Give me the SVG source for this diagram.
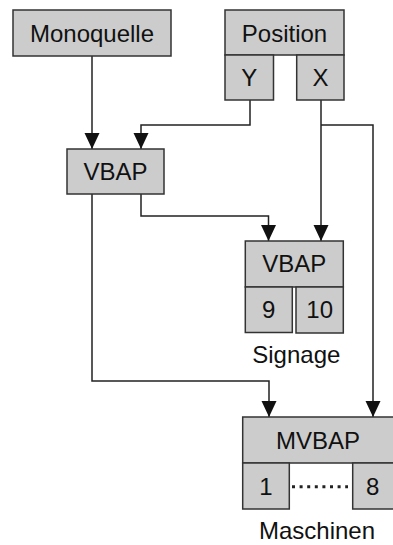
<svg xmlns="http://www.w3.org/2000/svg" width="393" height="545" viewBox="0 0 393 545">
  <style>
    .box { fill: #cccccc; stroke: #333333; stroke-width: 1.5; }
    .lbl { font-family: "Liberation Sans", Arial, sans-serif; font-size: 24px; fill: #111111; text-anchor: middle; }
    .wire { fill: none; stroke: #222222; stroke-width: 1.5; }
    .arrow { marker-end: url(#arrow); }
    .dots { fill: none; stroke: #222222; stroke-width: 3; stroke-dasharray: 3 4.6; }
  </style>
  <defs>
    <!-- filled triangular head, drawn along +x so orient="auto" points it down the wire -->
    <marker id="arrow" markerUnits="userSpaceOnUse" markerWidth="16" markerHeight="16" refX="16" refY="8" orient="auto" viewBox="0 0 16 16">
      <path d="M0,0.5 L16,8 L0,15.5 Z" fill="#111111"/>
    </marker>
  </defs>

  <rect width="393" height="545" fill="#ffffff"/>

  <g id="connectors">
    <path class="wire arrow" d="M92,56 V149"/>
    <path class="wire arrow" d="M250,100 V125 H141 V149"/>
    <path class="wire arrow" d="M321,100 V241"/>
    <path class="wire arrow" d="M321,125 H373 V417"/>
    <path class="wire arrow" d="M141,194 V216 H268.5 V241"/>
    <path class="wire arrow" d="M92,194 V381 H269 V417"/>
  </g>

  <g id="monoquelle">
    <rect class="box" x="13" y="10" width="158" height="46"/>
    <text class="lbl" x="92" y="42">Monoquelle</text>
  </g>

  <g id="position">
    <rect class="box" x="225" y="10" width="119" height="45"/>
    <text class="lbl" x="284.5" y="42">Position</text>
    <g id="position-y">
      <rect class="box" x="225" y="55" width="48.5" height="45"/>
      <text class="lbl" x="249.3" y="85.5">Y</text>
    </g>
    <g id="position-x">
      <rect class="box" x="296.7" y="55" width="47.3" height="45"/>
      <text class="lbl" x="320.4" y="85.5">X</text>
    </g>
  </g>

  <g id="vbap">
    <rect class="box" x="67" y="149" width="97" height="45"/>
    <text class="lbl" x="115.5" y="180">VBAP</text>
  </g>

  <g id="signage">
    <rect class="box" x="245.3" y="241" width="98" height="46"/>
    <text class="lbl" x="294.3" y="272">VBAP</text>
    <g id="signage-9">
      <rect class="box" x="245.3" y="287" width="47" height="45.5"/>
      <text class="lbl" x="268.8" y="318.3">9</text>
    </g>
    <g id="signage-10">
      <rect class="box" x="296" y="287" width="47.3" height="46"/>
      <text class="lbl" x="319.7" y="318.3">10</text>
    </g>
    <text class="lbl" x="296.3" y="363">Signage</text>
  </g>

  <g id="maschinen">
    <rect class="box" x="242.7" y="417" width="152" height="46"/>
    <text class="lbl" x="318" y="448.5">MVBAP</text>
    <g id="maschine-1">
      <rect class="box" x="242.7" y="463" width="46.6" height="46"/>
      <text class="lbl" x="266" y="494.7">1</text>
    </g>
    <g id="maschine-8">
      <rect class="box" x="352.7" y="463" width="42" height="46"/>
      <text class="lbl" x="372.7" y="494.7">8</text>
    </g>
    <path class="dots" d="M292,486.7 H348"/>
    <text class="lbl" x="317" y="539">Maschinen</text>
  </g>
</svg>
